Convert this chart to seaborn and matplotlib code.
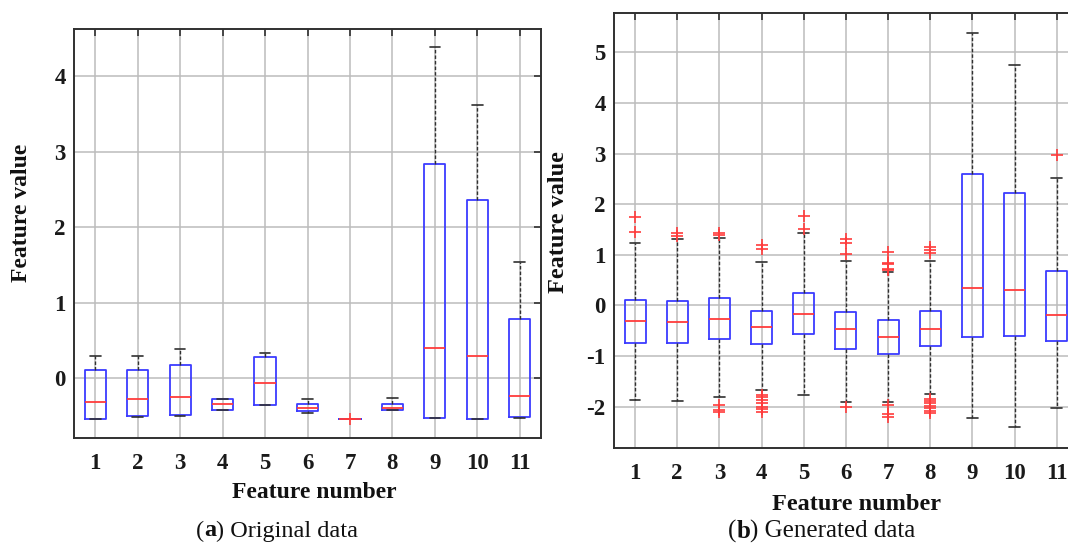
import numpy as np
import pandas as pd
import matplotlib
matplotlib.use("Agg")
import matplotlib.pyplot as plt
import seaborn as sns

# ---------------- data ----------------
features = [str(i) for i in range(1, 12)]

# (a) Original data: quartiles, whisker ends, outliers
a_q1 = [-0.537, -0.498, -0.489, -0.414, -0.352, -0.436, -0.535, -0.414, -0.524, -0.537, -0.511]
a_med = [-0.308, -0.278, -0.251, -0.344, -0.057, -0.396, -0.535, -0.396, 0.396, 0.295, -0.233]
a_q3 = [0.110, 0.106, 0.181, -0.273, 0.282, -0.335, -0.535, -0.339, 2.83, 2.36, 0.784]
a_lo = [-0.537, -0.511, -0.502, -0.414, -0.357, -0.454, -0.535, -0.423, -0.524, -0.537, -0.520]
a_hi = [0.295, 0.295, 0.392, -0.269, 0.330, -0.278, -0.535, -0.264, 4.38, 3.61, 1.54]
a_out = [[], [], [], [], [], [], [-0.54], [], [], [], []]

# (b) Generated data
b_q1 = [-0.738, -0.745, -0.666, -0.771, -0.573, -0.857, -0.956, -0.804, -0.626, -0.606, -0.705]
b_med = [-0.303, -0.323, -0.270, -0.435, -0.171, -0.468, -0.626, -0.468, 0.343, 0.297, -0.198]
b_q3 = [0.112, 0.092, 0.145, -0.112, 0.244, -0.125, -0.297, -0.119, 2.60, 2.23, 0.672]
b_lo = [-1.86, -1.885, -1.806, -1.68, -1.773, -1.905, -1.91, -1.747, -2.23, -2.41, -2.02]
b_hi = [1.233, 1.32, 1.33, 0.857, 1.44, 0.877, 0.66, 0.87, 5.39, 4.75, 2.51]
b_out = [
    [1.46, 1.75],
    [1.37, 1.43],
    [1.40, 1.43, -1.97, -2.06, -2.10],
    [1.11, 1.19, -1.77, -1.81, -1.86, -1.93, -2.00, -2.05, -2.11],
    [1.50, 1.76],
    [1.02, 1.24, 1.32, -2.01],
    [0.70, 0.72, 0.81, 0.84, 1.05, -1.97, -2.14, -2.20],
    [1.03, 1.10, 1.16, -1.84, -1.88, -1.93, -1.98, -2.03, -2.08, -2.13],
    [], [], [2.97],
]


def build_table(q1, med, q3, lo, hi, out):
    """Long table of samples reproducing the read five-number summaries."""
    rows = []
    for f, a, m, b, l, h, o in zip(features, q1, med, q3, lo, hi, out):
        vals = [l] + [a] * 40 + [m] * 40 + [b] * 40 + [h] + list(o)
        rows += [(f, v) for v in vals]
    return pd.DataFrame(rows, columns=["feature", "value"])


df_a = build_table(a_q1, a_med, a_q3, a_lo, a_hi, a_out)
df_b = build_table(b_q1, b_med, b_q3, b_lo, b_hi, b_out)

# ---------------- style ----------------
sns.set_style("white")
plt.rcParams["font.family"] = ["Liberation Serif", "DejaVu Serif"]

BLUE = "#3c3cff"
RED = "#ff3b3b"
DARK = "#303030"
GRID = "#bcbcbc"

W, H = 1068, 544
fig = plt.figure(figsize=(W / 100, H / 100), dpi=100)


def px_axes(left, top, right, bottom):
    return fig.add_axes([left / W, 1 - bottom / H, (right - left) / W, (bottom - top) / H])


ax1 = px_axes(74, 29.3, 541, 437.7)
ax2 = px_axes(614, 13.3, 1077.8, 447.7)


def draw(ax, df, ylim, yticks, label_size):
    sns.boxplot(
        data=df, x="feature", y="value", order=features, ax=ax,
        width=0.5, whis=1.5, fill=False, linewidth=1.3,
        boxprops=dict(color=BLUE, linewidth=1.3),
        medianprops=dict(color=RED, linewidth=1.3),
        whiskerprops=dict(color=DARK, linewidth=1.0, linestyle=(0, (2.5, 1.5))),
        capprops=dict(color=DARK, linewidth=1.2),
        flierprops=dict(marker="+", markeredgecolor=RED, markerfacecolor=RED,
                        markersize=9, markeredgewidth=1.2),
    )
    ax.set_xlim(-0.5, 10.5)
    ax.set_ylim(*ylim)
    ax.set_yticks(yticks)
    ax.set_yticklabels([str(t) for t in yticks])
    ax.set_axisbelow(True)
    ax.grid(True, axis="both", color=GRID, linewidth=1.1)
    for s in ax.spines.values():
        s.set_visible(True)
        s.set_color(DARK)
        s.set_linewidth(1.4)
    ax.tick_params(axis="both", direction="in", top=True, right=True,
                   length=5, width=1.2, color=DARK, labelsize=16.5, labelcolor="#1a1a1a")
    ax.tick_params(axis="x", pad=11)
    ax.tick_params(axis="y", pad=6)
    for t in ax.get_xticklabels() + ax.get_yticklabels():
        t.set_fontweight("bold")
    ax.set_xlabel("Feature number", fontsize=label_size, fontweight="bold", color="#111111")
    ax.set_ylabel("Feature value", fontsize=label_size, fontweight="bold", color="#111111")


draw(ax1, df_a, (-0.786, 4.617), [0, 1, 2, 3, 4], 17)
draw(ax2, df_b, (-2.81, 5.77), [-2, -1, 0, 1, 2, 3, 4, 5], 17.5)

# label placement (figure pixel coordinates)
def place_labels(ax, xl, yl):
    ax.xaxis.set_label_coords(xl[0] / W, 1 - xl[1] / H, transform=fig.transFigure)
    ax.xaxis.label.set_va("center")
    ax.yaxis.set_label_coords(yl[0] / W, 1 - yl[1] / H, transform=fig.transFigure)
    ax.yaxis.label.set_va("center")


place_labels(ax1, (314.7, 492), (21.3, 212.5))
place_labels(ax2, (856, 505), (558.4, 222))

# captions: "(a) Original data", "(b) Generated data" with bold letter
fig.canvas.draw()
renderer = fig.canvas.get_renderer()


def caption(cx, cy, letter, rest, size):
    parts = [("(", "normal"), (letter, "bold"), (") " + rest, "normal")]
    texts = []
    for s, w in parts:
        t = fig.text(0, 1 - cy / H, s, fontsize=size, fontweight=w, va="center",
                     ha="left", color="#111111")
        texts.append(t)
    widths = [t.get_window_extent(renderer).width for t in texts]
    total = sum(widths)
    x = cx - total / 2
    for t, wdt in zip(texts, widths):
        t.set_x(x / W)
        x += wdt


caption(277, 531, "a", "Original data", 17.5)
caption(822, 531, "b", "Generated data", 18)

fig.savefig("out.png", dpi=100)
